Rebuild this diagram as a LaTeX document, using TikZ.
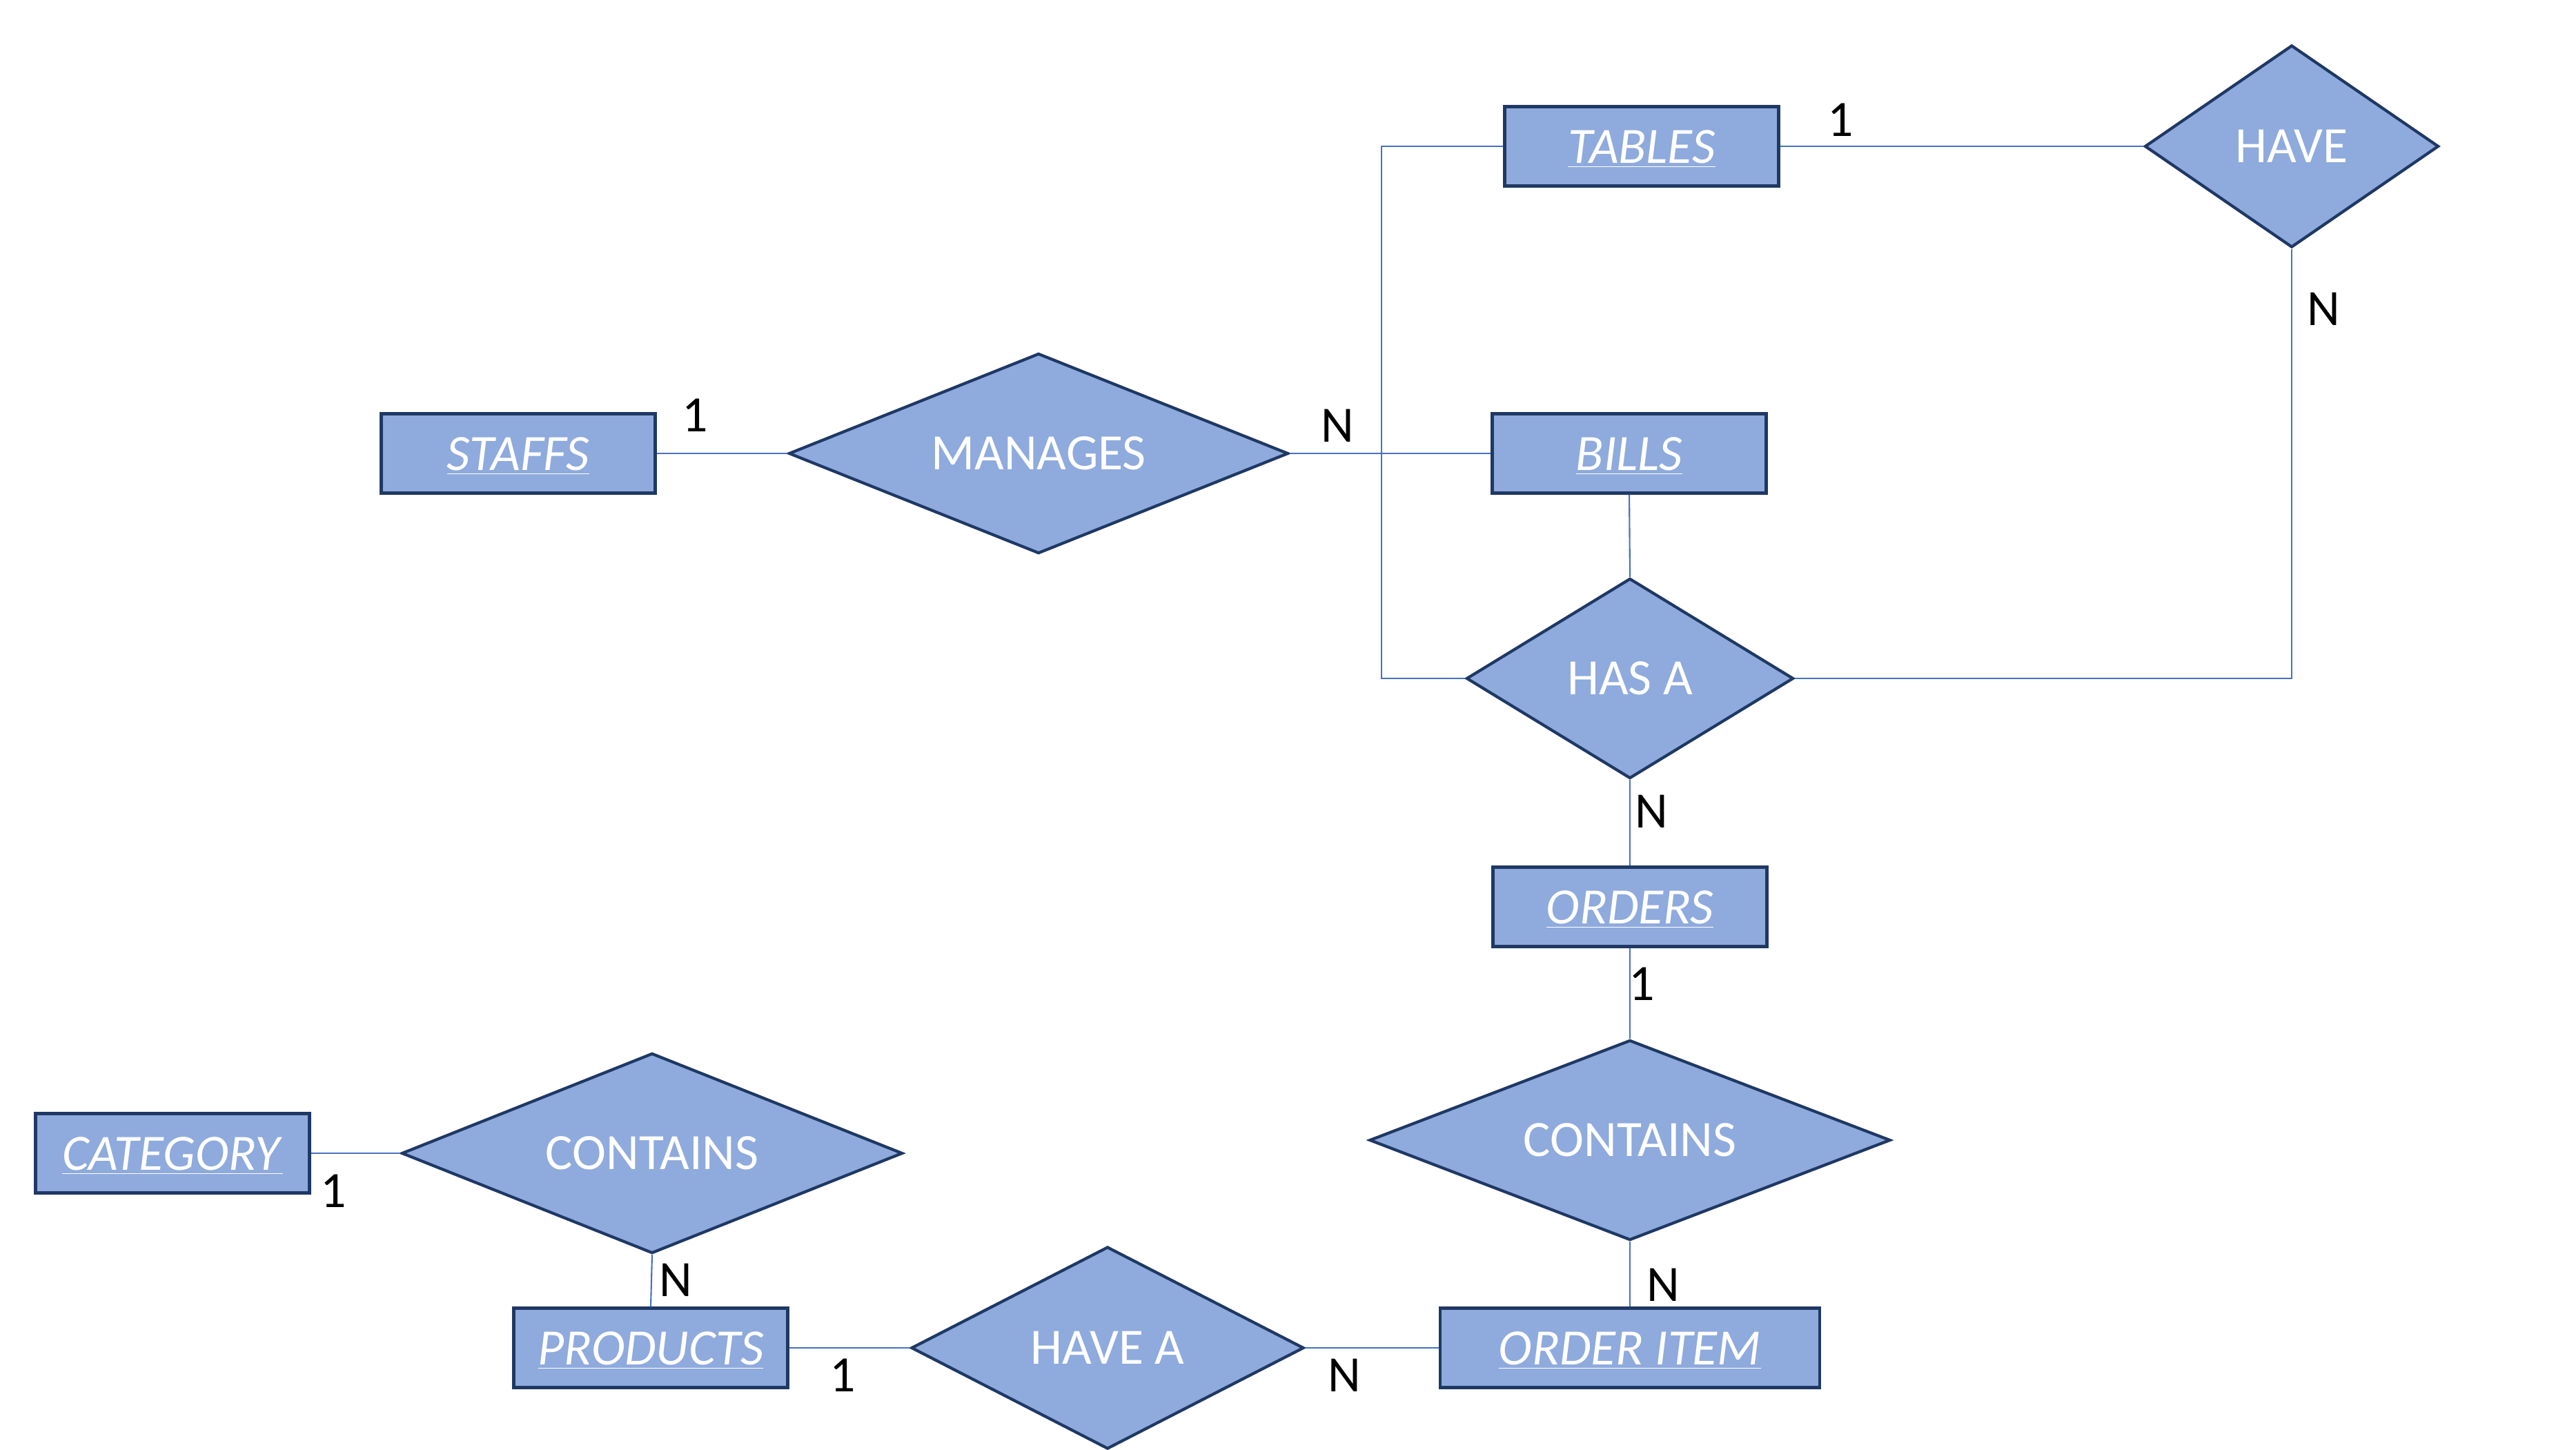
\documentclass[tikz,border=0pt]{standalone}
\usepackage{fontspec}
\setmainfont{Carlito}
\usetikzlibrary{shapes.geometric}
\definecolor{shapefill}{HTML}{8FAADC}
\definecolor{shapeedge}{HTML}{1F3864}
\definecolor{linkblue}{HTML}{4472C4}
\newcommand{\ent}[1]{\underline{\textit{#1}}}
\begin{document}
\begin{tikzpicture}[x=1cm,y=-1cm,
  entity/.style={draw=shapeedge,line width=1.2pt,fill=shapefill,text=white,
    minimum width=3.97cm,minimum height=1.15cm,inner sep=0pt,
    text height=0.5cm,text depth=0.02cm,font=\fontsize{21}{25}\selectfont},
  relation/.style={diamond,draw=shapeedge,line width=1.2pt,fill=shapefill,text=white,
    inner sep=0pt,font=\fontsize{21}{25}\selectfont},
  card/.style={inner sep=0pt,text=black,font=\fontsize{21}{25}\selectfont},
  link/.style={draw=linkblue,line width=0.6pt}]
\useasboundingbox (0,0) rectangle (37.33,21.00);
% entities
\node[entity] (tables) at (23.79,2.12) {\ent{TABLES}};
\node[entity] (staffs) at (7.51,6.57) {\ent{STAFFS}};
\node[entity] (bills) at (23.61,6.57) {\ent{BILLS}};
\node[entity] (orders) at (23.62,13.14) {\ent{ORDERS}};
\node[entity,minimum width=5.50cm] (orderitem) at (23.62,19.53) {\ent{ORDER ITEM}};
\node[entity] (products) at (9.43,19.53) {\ent{PRODUCTS}};
\node[entity] (category) at (2.50,16.71) {\ent{CATEGORY}};
% relations
\node[relation,aspect=1.45,minimum width=4.26cm,minimum height=2.93cm] (have) at (33.21,2.12) {HAVE};
\node[relation,aspect=2.5,minimum width=7.24cm,minimum height=2.90cm] (manages) at (15.05,6.57) {MANAGES};
\node[relation,aspect=1.63,minimum width=4.74cm,minimum height=2.90cm] (hasa) at (23.62,9.83) {HAS A};
\node[relation,aspect=2.6,minimum width=7.55cm,minimum height=2.90cm] (orderscontain) at (23.62,16.52) {CONTAINS};
\node[relation,aspect=1.94,minimum width=5.69cm,minimum height=2.93cm] (havea) at (16.05,19.53) {HAVE A};
\node[relation,aspect=2.5,minimum width=7.26cm,minimum height=2.90cm] (catcontain) at (9.45,16.71) {CONTAINS};
\coordinate (bend) at (20.02,6.57);
% connectors
\draw[link] (tables.east) -- (have.west);
\draw[link] (hasa.east) -| (have.south);
\draw[link] (staffs.east) -- (manages.west);
\draw[link] (manages.east) -- (bills.west);
\draw[link] (tables.west) -- (tables.west -| bend) -- (hasa.west -| bend) -- (hasa.west);
\draw[link] (bills.south) -- (hasa.north);
\draw[link] (hasa.south) -- (orders.north);
\draw[link] (orders.south) -- (orderscontain.north);
\draw[link] (orderscontain.south) -- (orderitem.north);
\draw[link] (orderitem.west) -- (havea.east);
\draw[link] (havea.west) -- (products.east);
\draw[link] (products.north) -- (catcontain.south);
\draw[link] (catcontain.west) -- (category.east);
% cardinalities
\node[card] (c1) at (26.67,1.74) {1};
\node[card] (c2) at (33.67,4.48) {N};
\node[card] (c3) at (10.07,6.02) {1};
\node[card] (c4) at (19.38,6.17) {N};
\node[card] (c5) at (23.93,11.76) {N};
\node[card] (c6) at (23.79,14.26) {1};
\node[card] (c7) at (24.10,18.62) {N};
\node[card] (c8) at (19.48,19.93) {N};
\node[card] (c9) at (12.21,19.93) {1};
\node[card] (c10) at (9.79,18.55) {N};
\node[card] (c11) at (4.83,17.26) {1};
\end{tikzpicture}
\end{document}
